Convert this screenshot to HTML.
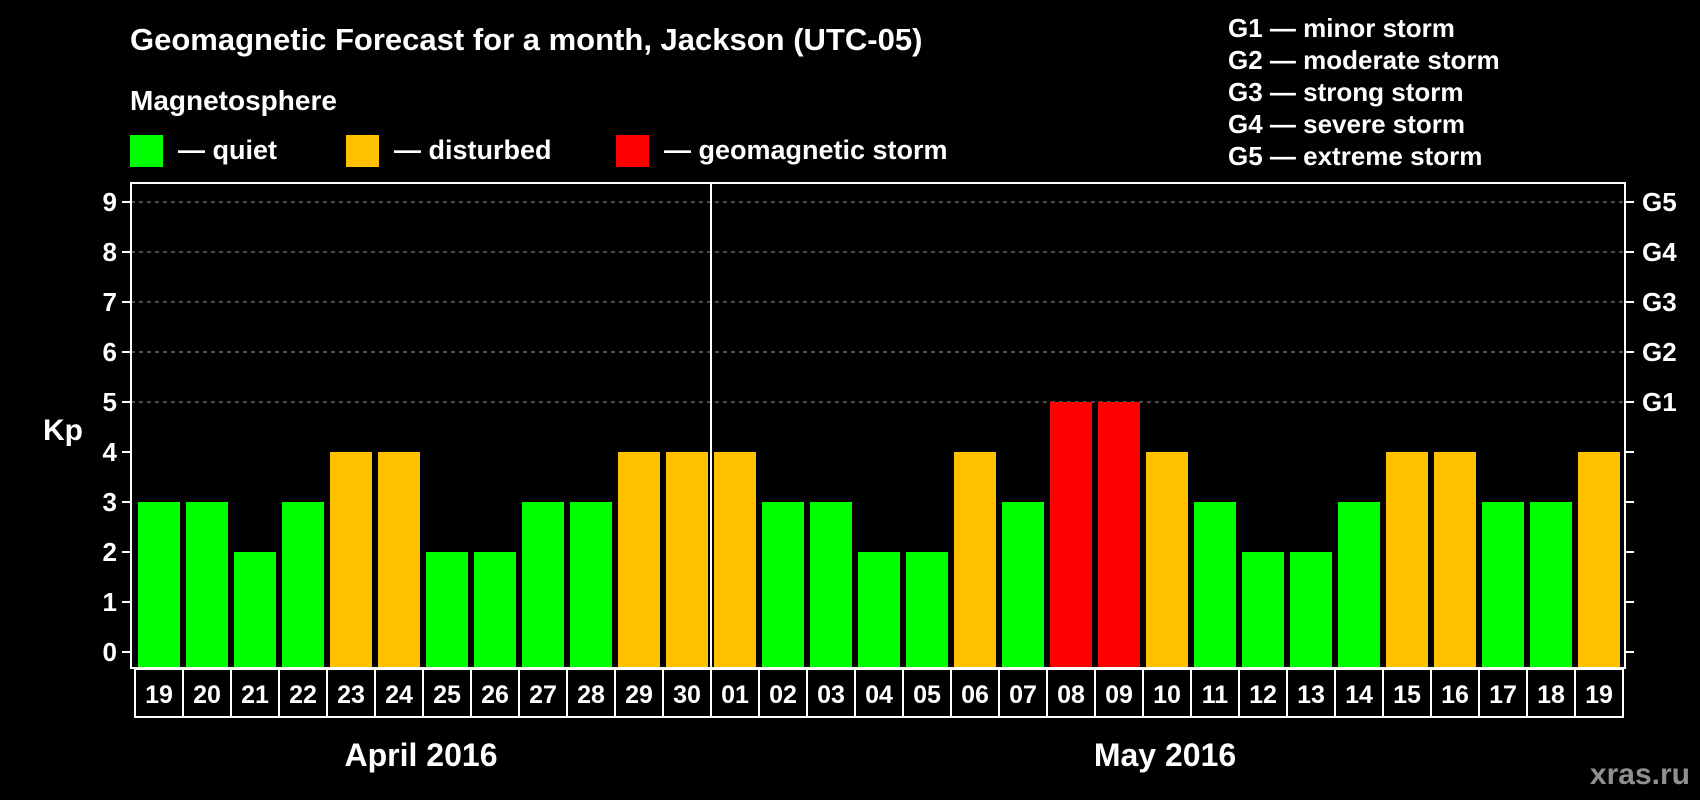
<!DOCTYPE html>
<html><head><meta charset="utf-8"><style>
html,body{margin:0;padding:0;background:#000;}
svg{display:block;font-family:"Liberation Sans",sans-serif;font-weight:bold;}
</style></head><body>
<svg id="chart" width="1700" height="800" viewBox="0 0 1700 800">
<rect x="0" y="0" width="1700" height="800" fill="#000"/>
<text x="130" y="50" fill="#fff" font-size="31">Geomagnetic Forecast for a month, Jackson (UTC-05)</text>
<text x="130" y="110" fill="#fff" font-size="28">Magnetosphere</text>
<g>
<rect x="130" y="135" width="33" height="32" fill="#00ff00"/>
<text x="178" y="159" fill="#fff" font-size="27">— quiet</text></g>
<g>
<rect x="346" y="135" width="33" height="32" fill="#ffc000"/>
<text x="394" y="159" fill="#fff" font-size="27">— disturbed</text></g>
<g>
<rect x="616" y="135" width="33" height="32" fill="#ff0000"/>
<text x="664" y="159" fill="#fff" font-size="27">— geomagnetic storm</text></g>
<g font-size="26" fill="#fff">
<text x="1228" y="37">G1 — minor storm</text>
<text x="1228" y="69">G2 — moderate storm</text>
<text x="1228" y="101">G3 — strong storm</text>
<text x="1228" y="133">G4 — severe storm</text>
<text x="1228" y="165">G5 — extreme storm</text>
</g>
<text x="63" y="440" fill="#fff" font-size="30" text-anchor="middle">Kp</text>
<g id="plot"></g>
<text x="421" y="766" fill="#fff" font-size="32" text-anchor="middle">April 2016</text>
<text x="1165" y="766" fill="#fff" font-size="32" text-anchor="middle">May 2016</text>
<text x="1690" y="784" fill="#909090" font-size="30" text-anchor="end">xras.ru</text>
</svg>
<script>
const days = ["19","20","21","22","23","24","25","26","27","28","29","30","01","02","03","04","05","06","07","08","09","10","11","12","13","14","15","16","17","18","19"];
const kpValues = [3,3,2,3,4,4,2,2,3,3,4,4,4,3,3,2,2,4,3,5,5,4,3,2,2,3,4,4,3,3,4];
const yTicks = [0,1,2,3,4,5,6,7,8,9];
const gLabels = ["G1","G2","G3","G4","G5"];
const gLevels = [5,6,7,8,9];
const monthSplit = 12;

const NS = "http://www.w3.org/2000/svg";
const plot = document.getElementById("plot");
const L = 131, R = 1625, T = 183, B = 668, Y0 = 652, unit = 50, pitch = 48, bx0 = 138, bw = 42;
const yScale = v => Y0 - v * unit;
const xScale = i => bx0 + i * pitch;
function mk(tag, attrs) { const e = document.createElementNS(NS, tag); for (const k in attrs) e.setAttribute(k, attrs[k]); plot.appendChild(e); return e; }

gLevels.forEach((v, i) => {
  const g = mk("line", {x1: L, x2: R, y1: yScale(v), y2: yScale(v), stroke: "#999", "stroke-width": 1, "stroke-dasharray": "4,4"});
  
  
});

kpValues.forEach((v, i) => {
  const color = v >= 5 ? "#ff0000" : (v >= 4 ? "#ffc000" : "#00ff00");
  const r = mk("rect", {x: xScale(i), y: yScale(v), width: bw, height: B - yScale(v), fill: color});
  
  
});

const frame = mk("rect", {x: L, y: T, width: R - L, height: B - T, fill: "none", stroke: "#fff", "stroke-width": 2});



const sep = mk("line", {x1: xScale(monthSplit) - 3, x2: xScale(monthSplit) - 3, y1: T, y2: B, stroke: "#fff", "stroke-width": 2});



yTicks.forEach(v => {
  const t = mk("line", {x1: L - 9, x2: L, y1: yScale(v), y2: yScale(v), stroke: "#fff", "stroke-width": 2});
  
  
  const t2 = mk("line", {x1: R, x2: R + 9, y1: yScale(v), y2: yScale(v), stroke: "#fff", "stroke-width": 2});
  
  
  const lab = mk("text", {x: 117, y: yScale(v) + 9, fill: "#fff", "font-size": 26, "text-anchor": "end"});
  lab.textContent = v;
  
  
});

gLevels.forEach((v, i) => {
  const lab = mk("text", {x: 1642, y: yScale(v) + 9, fill: "#fff", "font-size": 26});
  lab.textContent = gLabels[i];
  
  
});

const bx = 135, by = 669, bh = 48;
const box = mk("rect", {x: bx, y: by, width: days.length * pitch, height: bh, fill: "#000", stroke: "#fff", "stroke-width": 2});


days.forEach((d, i) => {
  if (i > 0) {
    const dv = mk("line", {x1: bx + i * pitch, x2: bx + i * pitch, y1: by, y2: by + bh, stroke: "#fff", "stroke-width": 2});
    
    
  }
  const t = mk("text", {x: bx + i * pitch + pitch / 2, y: by + 34, fill: "#fff", "font-size": 25, "text-anchor": "middle"});
  t.textContent = d;
  
  
});
</script>
</body></html>
